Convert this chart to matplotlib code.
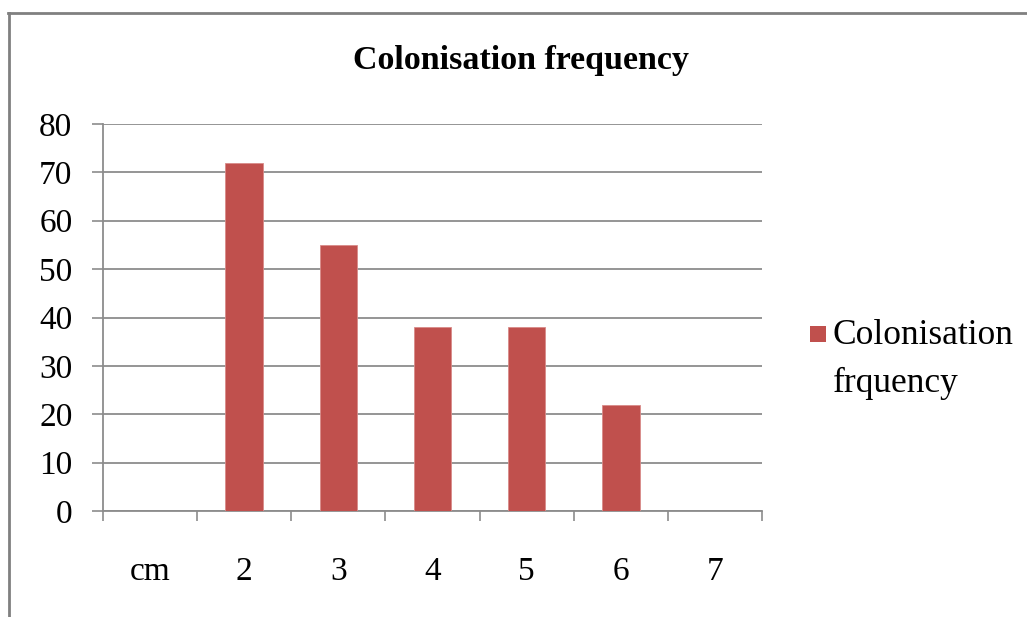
import matplotlib
matplotlib.use("Agg")
import matplotlib.pyplot as plt
from matplotlib.lines import Line2D
from matplotlib.patches import Rectangle
import numpy as np

categories = ["cm", "2", "3", "4", "5", "6", "7"]
values = [0, 72, 55, 38, 38, 22, 0]
title = "Colonisation frequency"
legend_label = "Colonisation\nfrquency"
y_ticks = [0, 10, 20, 30, 40, 50, 60, 70, 80]

plt.rcParams['font.family'] = ['Liberation Serif', 'DejaVu Serif']

fig = plt.figure(figsize=(10.27, 6.17), dpi=100)
W, H = 1027, 617
ax = fig.add_axes([103 / W, 1 - 511 / H, (762 - 103) / W, (511 - 124) / H])

x = np.arange(len(categories))
bar_color = "#C0504D"
bars = ax.bar(x, values, width=0.4, color=bar_color, edgecolor="#D98B89", linewidth=0.6, zorder=3)

ax.set_xlim(-0.5, len(categories) - 0.5)
ax.set_ylim(0, 80)
ax.set_yticks(y_ticks)
ax.set_yticklabels([str(v) for v in y_ticks], fontsize=24)
ax.yaxis.grid(True, color="#8C8C8C", linewidth=1.3, zorder=0)
ax.set_axisbelow(True)

ax.set_xticks(x)
ax.set_xticklabels(categories, fontsize=24)
ax.set_xticks(np.arange(len(categories) + 1) - 0.5, minor=True)
ax.tick_params(axis="x", which="major", length=0, pad=33)
ax.tick_params(axis="x", which="minor", length=7, width=1.2, color="#8C8C8C", direction="out")
ax.tick_params(axis="y", length=8, width=1.2, color="#8C8C8C", pad=14)

for s in ["top", "right"]:
    ax.spines[s].set_visible(False)
for s in ["left", "bottom"]:
    ax.spines[s].set_color("#8C8C8C")
    ax.spines[s].set_linewidth(1.3)

fig.text((352 + 690) / 2 / W, 1 - 61 / H, title, ha="center", va="center",
         fontsize=24.5, fontweight="bold")

# legend (series key at the right)
fig.add_artist(Rectangle((810 / W, 1 - 342 / H), 16 / W, 16 / H, transform=fig.transFigure,
                         facecolor=bar_color, edgecolor="none"))
fig.text(833 / W, 1 - 319 / H, legend_label, ha="left", va="top", fontsize=25.5,
         linespacing=1.58)

# outer chart frame (left and top edges visible)
fig.add_artist(Line2D([9 / W, 9 / W], [0, 1 - 13 / H], color="#808080", linewidth=2.0))
fig.add_artist(Line2D([8 / W, 1], [1 - 13 / H, 1 - 13 / H], color="#808080", linewidth=2.0))

fig.savefig("out.png", dpi=100, facecolor="white")
